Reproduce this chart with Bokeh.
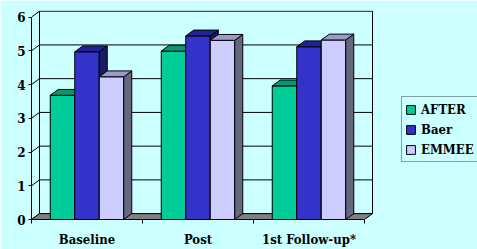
from bokeh.plotting import figure
from bokeh.models import (Range1d, FixedTicker, Legend, LegendItem)
from bokeh.embed import file_html
from bokeh.resources import INLINE

# ---- data ----
categories = ["Baseline", "Post", "1st Follow-up*"]
series_names = ["AFTER", "Baer", "EMMEE"]
after = [3.68, 4.99, 3.96]
baer = [4.97, 5.44, 5.12]
emmee = [4.23, 5.31, 5.32]
y_ticks = [0, 1, 2, 3, 4, 5, 6]

# ---- style ----
BG = "#ccffff"
front_colors = ["#00cc99", "#3333cc", "#ccccff"]
top_colors = ["#009973", "#222299", "#9999cc"]
side_colors = ["#006650", "#1a1a66", "#666680"]
FONT_X = "DejaVu Serif Condensed, DejaVu Serif"
FONT_Y = "DejaVu Serif"
FONT_L = "DejaVu Serif Condensed, DejaVu Serif"

PX_X = 111.0     # pixels per category
PX_Y = 34.55     # pixels per unit
DX = 8 / PX_X    # depth offset (x)
DY = 6 / PX_Y    # depth offset (y)
BAR_W = 24.5 / PX_X
YMAX = max(y_ticks)
NCAT = len(categories)

W, H = 477, 249
ML, MT, MB = 31, 10, 25
frame_w = W - ML
frame_h = H - MT - MB

p = figure(width=W, height=H, output_backend="svg", toolbar_location=None,
           x_range=Range1d(0, frame_w / PX_X), y_range=Range1d(0, frame_h / PX_Y),
           min_border_left=ML, min_border_right=0, min_border_top=MT,
           min_border_bottom=MB)
p.background_fill_color = BG
p.border_fill_color = BG
p.outline_line_color = None
p.xgrid.visible = False
p.ygrid.visible = False

# back wall
p.patch([DX, NCAT + DX, NCAT + DX, DX], [DY, DY, YMAX + DY, YMAX + DY],
        fill_color=BG, line_color="black", line_width=1)
# back wall gridlines
inner = [v for v in y_ticks if 0 < v < YMAX]
p.segment(x0=[DX] * len(inner), y0=[v + DY for v in inner],
          x1=[NCAT + DX] * len(inner), y1=[v + DY for v in inner],
          line_color="black", line_width=1)
# side wall diagonals
p.segment(x0=[0] * len(y_ticks), y0=y_ticks,
          x1=[DX] * len(y_ticks), y1=[v + DY for v in y_ticks],
          line_color="black", line_width=1)
# floor
p.patch([0, NCAT, NCAT + DX, DX], [0, 0, DY, DY],
        fill_color="#808080", line_color="black", line_width=1)

legend_items = []
all_series = [after, baer, emmee]
for j, vals in enumerate(all_series):
    lefts, rights = [], []
    for i in range(NCAT):
        c = i + 0.5 + (j - 1) * BAR_W
        lefts.append(c - BAR_W / 2)
        rights.append(c + BAR_W / 2)
    front = p.quad(left=lefts, right=rights, bottom=[0] * NCAT, top=vals,
                   fill_color=front_colors[j], line_color="black", line_width=1)
    side_xs = [[r, r + DX, r + DX, r] for r in rights]
    side_ys = [[0, DY, v + DY, v] for v in vals]
    p.patches(side_xs, side_ys, fill_color=side_colors[j], line_color="black",
              line_width=1)
    top_xs = [[l, r, r + DX, l + DX] for l, r in zip(lefts, rights)]
    top_ys = [[v, v, v + DY, v + DY] for v in vals]
    p.patches(top_xs, top_ys, fill_color=top_colors[j], line_color="black",
              line_width=1)
    legend_items.append(LegendItem(label=series_names[j], renderers=[front]))

# axes
ya = p.yaxis[0]
ya.ticker = FixedTicker(ticks=y_ticks)
ya.bounds = (0, YMAX)
ya.axis_line_color = "black"
ya.major_tick_out = 3
ya.major_tick_in = 0
ya.minor_tick_out = 0
ya.minor_tick_in = 0
ya.major_label_standoff = 3
ya.major_label_text_font = FONT_Y
ya.major_label_text_font_style = "bold"
ya.major_label_text_font_size = "12px"
ya.major_label_text_color = "black"

xa = p.xaxis[0]
centers = [i + 0.5 for i in range(NCAT)]
xa.ticker = FixedTicker(ticks=centers, minor_ticks=list(range(NCAT + 1)))
xa.major_label_overrides = {c: lab for c, lab in zip(centers, categories)}
xa.bounds = (0, NCAT)
xa.axis_line_color = "black"
xa.major_tick_out = 0
xa.major_tick_in = 0
xa.minor_tick_out = 4
xa.minor_tick_in = 0
xa.major_label_standoff = 8
xa.major_label_text_font = FONT_X
xa.major_label_text_font_style = "bold"
xa.major_label_text_font_size = "13px"
xa.major_label_text_color = "black"

legend = Legend(items=legend_items, location=(370, 57))
legend.label_text_font = FONT_L
legend.label_text_font_style = "bold"
legend.label_text_font_size = "13px"
legend.label_text_color = "black"
legend.glyph_width = 11
legend.glyph_height = 11
legend.label_height = 18
legend.spacing = 2
legend.padding = 3
legend.margin = 0
legend.label_standoff = 5
legend.border_line_color = "#404040"
legend.border_line_width = 1
legend.background_fill_color = BG
legend.background_fill_alpha = 1
p.add_layout(legend)

open("out.html", "w").write(file_html(p, INLINE))
